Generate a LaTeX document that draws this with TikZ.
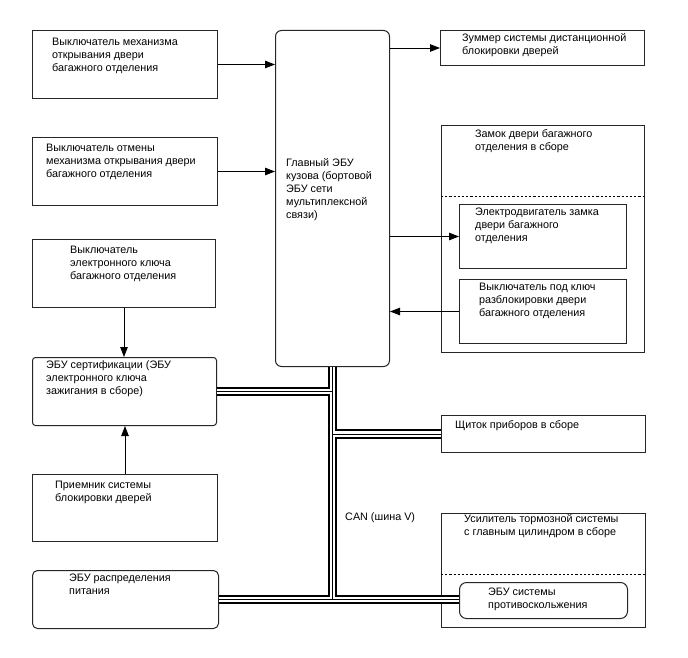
\documentclass[tikz,border=0pt]{standalone}
\usepackage{fontspec}
\setmainfont{Liberation Sans}
\usetikzlibrary{arrows.meta}
\tikzset{
  box/.style={draw=black!85, line width=1pt, inner sep=0pt, anchor=north west, fill=white},
  rbox/.style={box, rounded corners=#1},
  txt/.style={anchor=north west, inner sep=0pt, align=left, font=\fontsize{10.8}{13}\selectfont},
  arr/.style={line width=0.9pt, -{Triangle[length=10pt,width=7.5pt]}},
  sep/.style={line width=0.9pt, dash pattern=on 2.2pt off 2pt},
  busA/.style={line width=9.5pt, black},
  busB/.style={line width=5.5pt, white},
  busC/.style={line width=0.9pt, black},
}
\begin{document}
\begin{tikzpicture}[x=1pt,y=-1pt]
\useasboundingbox (0,0) rectangle (688,658);
% boxes
\node[box, minimum width=185pt, minimum height=68pt] (a) at (32,30) {};
\node[box, minimum width=185pt, minimum height=68pt] (b) at (32,137) {};
\node[rbox=6pt, minimum width=114pt, minimum height=336pt] (main) at (275,30) {};
\node[box, minimum width=204pt, minimum height=35pt] (buzz) at (440,30) {};
\node[box, minimum width=203pt, minimum height=227pt] (lock) at (441,125) {};
\node[box, minimum width=167pt, minimum height=64pt] (motor) at (459,204) {};
\node[box, minimum width=167pt, minimum height=64pt] (key) at (459,279) {};
\node[box, minimum width=183pt, minimum height=68pt] (ekey) at (32,239) {};
\node[rbox=3pt, minimum width=184pt, minimum height=68pt] (cert) at (32,357) {};
\node[box, minimum width=185pt, minimum height=67pt] (recv) at (32,474) {};
\node[rbox=5pt, minimum width=186pt, minimum height=58pt] (power) at (32,570) {};
\node[box, minimum width=204pt, minimum height=37pt] (dash) at (441,415) {};
\node[box, minimum width=204pt, minimum height=114pt] (brake) at (441,513) {};
\node[rbox=7pt, minimum width=168pt, minimum height=36pt] (abs) at (459,582) {};
% separators
\coordinate (s1l) at (441,196); \coordinate (s1r) at (644,196);
\coordinate (s2l) at (441,574); \coordinate (s2r) at (645,574);
\draw[sep] (s1l) -- (s1r);
\draw[sep] (s2l) -- (s2r);
% texts
\node[txt] (ta) at (52,36.4) {\strut Выключатель механизма\\открывания двери\\багажного отделения};
\node[txt] (tb) at (46,142.4) {\strut Выключатель отмены\\механизма открывания двери\\багажного отделения};
\node[txt] (tmain) at (286,157.4) {\strut Главный ЭБУ\\кузова (бортовой\\ЭБУ сети\\мультиплексной\\связи)};
\node[txt] (tbuzz) at (462,32.4) {\strut Зуммер системы дистанционной\\блокировки дверей};
\node[txt] (tlock) at (475,128.4) {\strut Замок двери багажного\\отделения в сборе};
\node[txt] (tmotor) at (475,206.4) {\strut Электродвигатель замка\\двери багажного\\отделения};
\node[txt] (tkey) at (479,281.4) {\strut Выключатель под ключ\\разблокировки двери\\багажного отделения};
\node[txt] (tekey) at (70,244.4) {\strut Выключатель\\электронного ключа\\багажного отделения};
\node[txt] (tcert) at (46,359.4) {\strut ЭБУ сертификации (ЭБУ\\электронного ключа\\зажигания в сборе)};
\node[txt] (trecv) at (55,479.4) {\strut Приемник системы\\блокировки дверей};
\node[txt] (tpower) at (69,572.4) {\strut ЭБУ распределения\\питания};
\node[txt] (tdash) at (455,419.4) {\strut Щиток приборов в сборе};
\node[txt] (tbrake) at (464,513.4) {\strut Усилитель тормозной системы\\с главным цилиндром в сборе};
\node[txt] (tabs) at (488,586.4) {\strut ЭБУ системы\\противоскольжения};
\node[txt] (tcan) at (345,511.4) {\strut CAN (шина V)};
% arrows
\draw[arr] (a.east) -- (a.east -| main.west);
\draw[arr] (b.east) -- (b.east -| main.west);
\draw[arr] (buzz.west -| main.east) -- (buzz.west);
\draw[arr] (motor.west -| main.east) -- (motor.west);
\draw[arr] (key.west) -- (key.west -| main.east);
\draw[arr] (ekey.south) -- (ekey.south |- cert.north);
\draw[arr] (recv.north) -- (recv.north |- cert.south);
% CAN bus
\coordinate (j1) at (cert.east -| main.south);
\coordinate (j2) at (dash.west -| main.south);
\coordinate (j3) at (power.east -| main.south);
\foreach \s in {busA,busB,busC}{
  \draw[\s] (main.south) -- (j3);
  \draw[\s] (cert.east) -- (j1);
  \draw[\s] (j2) -- (dash.west);
  \draw[\s] (power.east) -- (power.east -| abs.west);
}
\end{tikzpicture}
\end{document}
